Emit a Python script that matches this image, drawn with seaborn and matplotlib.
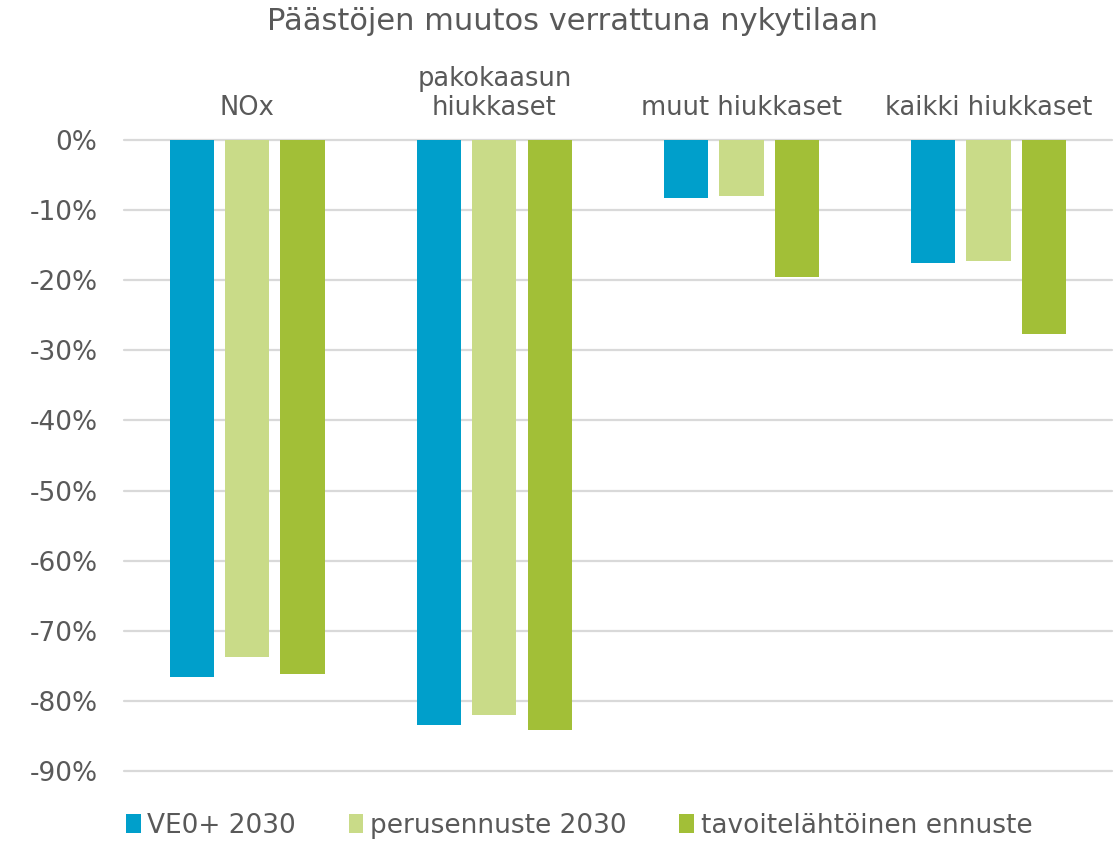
import matplotlib
matplotlib.use("Agg")
import matplotlib.pyplot as plt
import seaborn as sns
import pandas as pd
from matplotlib.patches import Patch

categories = ["NOx", "pakokaasun\nhiukkaset", "muut hiukkaset", "kaikki hiukkaset"]
series_names = ["VE0+ 2030", "perusennuste 2030", "tavoitelähtöinen ennuste"]
ve0_2030 = [-76.6, -83.4, -8.2, -17.6]
perus_2030 = [-73.8, -82.0, -8.0, -17.3]
tavoite = [-76.2, -84.1, -19.5, -27.6]
y_ticks = [0, -10, -20, -30, -40, -50, -60, -70, -80, -90]
y_tick_labels = ["0%", "-10%", "-20%", "-30%", "-40%", "-50%", "-60%", "-70%", "-80%", "-90%"]
colors = ["#009FCB", "#C9DB88", "#A2BF37"]
title = "Päästöjen muutos verrattuna nykytilaan"

rows = []
for name, vals in zip(series_names, [ve0_2030, perus_2030, tavoite]):
    for c, v in zip(categories, vals):
        rows.append({"cat": c, "series": name, "value": v})
df = pd.DataFrame(rows)

sns.set_theme(style="white")
plt.rcParams["font.family"] = ["DejaVu Sans"]
text_color = "#595959"

fig = plt.figure(figsize=(11.16, 8.41), dpi=100)
ax = fig.add_axes([0.111, 0.0832, 0.8854, 0.7503])

sns.barplot(data=df, x="cat", y="value", hue="series", order=categories,
            hue_order=series_names, palette=colors, width=0.67, gap=0.2,
            saturation=1, errorbar=None, ax=ax, legend=False, zorder=3,
            linewidth=0)

ax.set_ylim(-90, 0)
ax.set_yticks(y_ticks)
ax.set_yticklabels(y_tick_labels, fontsize=19, color=text_color)
ax.yaxis.grid(True, color="#d9d9d9", linewidth=1.6, zorder=0)
ax.set_axisbelow(True)
for g in ax.get_ygridlines():
    g.set_clip_on(False)
ax.xaxis.tick_top()
ax.set_xticks(range(len(categories)))
ax.set_xticklabels(categories, fontsize=18.5, color=text_color, linespacing=1.15)
ax.tick_params(axis="x", length=0, pad=14)
ax.tick_params(axis="y", length=0, pad=19)
ax.set_xlabel("")
ax.set_ylabel("")
for s in ax.spines.values():
    s.set_visible(False)

fig.text(0.513, 0.975, title, ha="center", va="center", fontsize=22, color=text_color)

handles = [Patch(facecolor=c, edgecolor="none") for c in colors]
fig.legend(handles, series_names, loc="center", bbox_to_anchor=(0.519, 0.018), ncol=3,
           frameon=False, fontsize=19, handlelength=0.55, handleheight=0.75,
           handletextpad=0.25, columnspacing=2.0, labelcolor=text_color)

fig.savefig("out.png", dpi=100)
